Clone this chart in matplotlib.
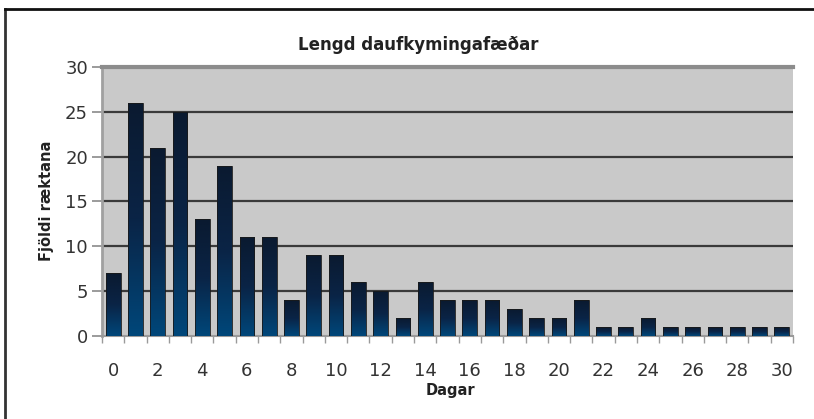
import matplotlib
matplotlib.use("Agg")
import matplotlib.pyplot as plt
import numpy as np
from matplotlib.colors import LinearSegmentedColormap
from matplotlib.lines import Line2D

# Gögn: fjöldi ræktana eftir lengd daufkymingafæðar (dagar)
dagar = list(range(31))
fjoldi = [7, 26, 21, 25, 13, 19, 11, 11, 4, 9, 9, 6, 5, 2, 6, 4, 4, 4, 3, 2, 2, 4,
          1, 1, 2, 1, 1, 1, 1, 1, 1]
y_ticks = [0, 5, 10, 15, 20, 25, 30]
x_ticks = list(range(0, 31, 2))

W, H = 814, 419
fig = plt.figure(figsize=(W / 100, H / 100), dpi=100)
fig.patch.set_facecolor("white")

ax = fig.add_axes([102 / W, (H - 336) / H, 691 / W, 269 / H])
ax.set_facecolor("#c9c9c9")

bars = ax.bar(dagar, fjoldi, width=0.66, color="none", edgecolor="none", zorder=3)

# Litbrigði í súlunum: dökkt efst, blárra neðst
cmap = LinearSegmentedColormap.from_list("sula", ["#00477a", "#0a2446", "#0a1a30"])
grad = np.linspace(0, 1, 256).reshape(-1, 1)
for b in bars:
    x0, w, h = b.get_x(), b.get_width(), b.get_height()
    im = ax.imshow(grad, cmap=cmap, aspect="auto", origin="lower",
                   extent=[x0, x0 + w, 0, h], zorder=3, interpolation="bilinear")
    im.set_clip_path(b)
    ax.add_patch(plt.Rectangle((x0, 0), w, h, fill=False, edgecolor="#1a1a1a",
                               linewidth=0.6, zorder=4))

ax.set_xlim(-0.5, 30.5)
ax.set_ylim(0, 30)

# Gridlínur
for v in y_ticks[1:-1]:
    ax.axhline(v, color="#3a3a3a", linewidth=1.6, zorder=1)

ax.set_yticks(y_ticks)
ax.set_xticks(x_ticks)
ax.set_xticks(np.arange(-0.5, 31, 1), minor=True)
ax.tick_params(axis="y", direction="out", length=7, width=1.2, color="#8a8a8a",
               labelsize=13, labelcolor="#333333", pad=3)
ax.tick_params(axis="x", which="major", length=0, labelsize=13,
               labelcolor="#333333", pad=19)
ax.tick_params(axis="x", which="minor", direction="out", length=5, width=1,
               color="#9a9a9a")

for s in ["right"]:
    ax.spines[s].set_visible(False)
ax.spines["top"].set_color("#8c8c8c")
ax.spines["top"].set_linewidth(3)
ax.spines["left"].set_color("#a0a0a0")
ax.spines["left"].set_linewidth(2)
ax.spines["bottom"].set_color("#9a9a9a")
ax.spines["bottom"].set_linewidth(1.5)

fig.text(418 / W, 1 - 45 / H, "Lengd daufkymingafæðar", ha="center", va="center",
         fontsize=12, fontweight="bold", color="#222222")
fig.text(47 / W, 1 - 201 / H, "Fjöldi ræktana", ha="center", va="center",
         rotation=90, fontsize=10.5, fontweight="bold", color="#222222")
fig.text(450 / W, 1 - 391 / H, "Dagar", ha="center", va="center",
         fontsize=10.5, fontweight="bold", color="#222222")

# Rammi utan um myndina
fig.add_artist(Line2D([5 / W, 5 / W], [0, 1 - 9 / H], transform=fig.transFigure,
                      color="#333333", linewidth=2))
fig.add_artist(Line2D([5 / W, 1], [1 - 9 / H, 1 - 9 / H], transform=fig.transFigure,
                      color="#111111", linewidth=2))

fig.savefig("out.png", dpi=100)
